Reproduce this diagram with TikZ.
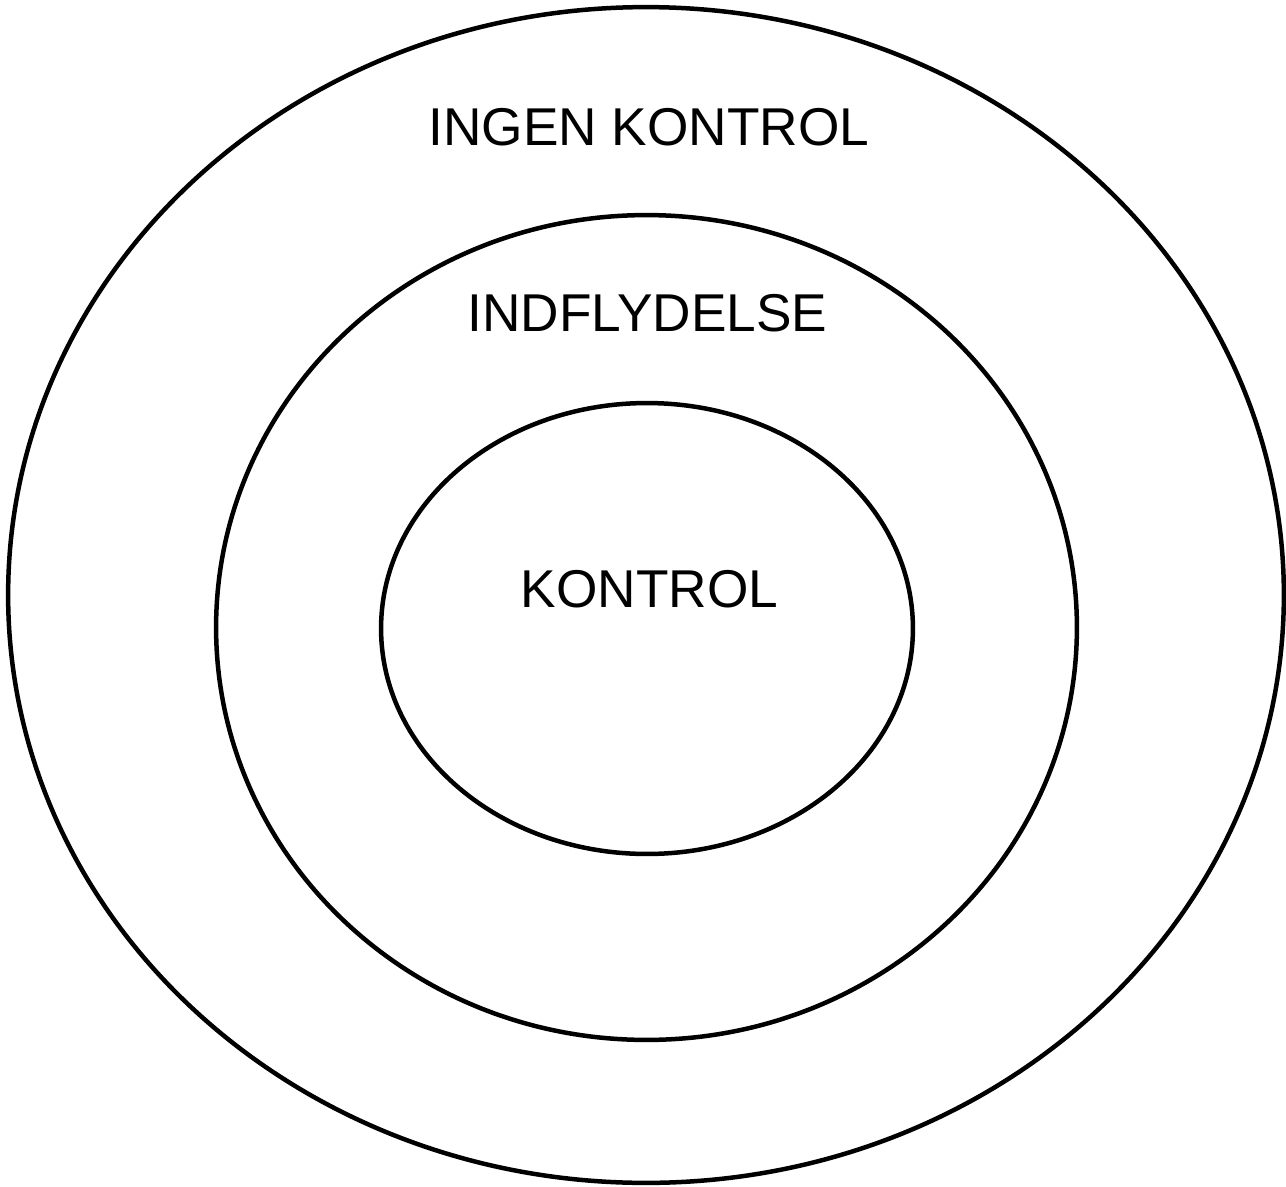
\documentclass[tikz,border=0pt]{standalone}
\usepackage{fontspec}
\setmainfont{Liberation Sans}
\usetikzlibrary{shapes.geometric}

\begin{document}
\begin{tikzpicture}[
    x=0.02cm, y=-0.02cm,
    ring/.style={draw=black, ellipse, line width=0.09cm, inner sep=0pt},
    label/.style={font=\fontsize{30.3}{36}\selectfont, inner sep=0pt}
]
\useasboundingbox (0,0) rectangle (1286,1187);
\node[ring, minimum width=25.52cm, minimum height=23.52cm] (outer) at (646,595) {};
\node[ring, minimum width=17.22cm, minimum height=16.5cm] (middle) at (646.5,627.5) {};
\node[ring, minimum width=10.64cm, minimum height=9.02cm] (inner) at (647,628.5) {};
\node[label] (nocontrol) at (649,127) {INGEN KONTROL};
\node[label] (influence) at (647.5,313) {INDFLYDELSE};
\node[label] (control) at (649.5,589) {KONTROL};
\end{tikzpicture}
\end{document}
